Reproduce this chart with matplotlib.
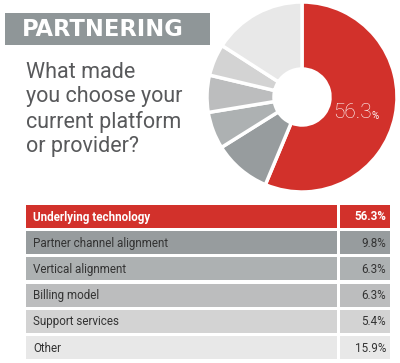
import matplotlib
matplotlib.use("Agg")
import matplotlib.pyplot as plt
import matplotlib.patches as patches

# survey answers, in order of the table
categories = ["Underlying technology", "Partner channel alignment", "Vertical alignment",
              "Billing model", "Support services", "Other"]
values = [56.3, 9.8, 6.3, 6.3, 5.4, 15.9]
colors = ["#d2312b", "#979c9e", "#adb1b2", "#bcbdbe", "#d3d3d3", "#e8e8e8"]
title = "PARTNERING"
question = "What made\nyou choose your\ncurrent platform\nor provider?"

W, H = 400, 363
fig = plt.figure(figsize=(W / 100, H / 100), dpi=100)
fig.patch.set_facecolor("white")

narrow = ["Roboto", "DejaVu Sans"]

# donut first, so the canvas with the labels sits on top
cx, cy, r = 302, 97, 95
pax = fig.add_axes([(cx - r) / W, (H - cy - r) / H, 2 * r / W, 2 * r / H])
pax.pie(values, colors=colors, startangle=90, counterclock=False, radius=1,
        wedgeprops=dict(width=1 - 28 / 95, edgecolor="white", linewidth=2.5))
pax.set_aspect("equal")
pax.set_xlim(-1, 1)
pax.set_ylim(-1, 1)
pax.axis("off")

# main canvas in pixel units (y down)
ax = fig.add_axes([0, 0, 1, 1])
ax.set_zorder(3)
ax.set_xlim(0, W)
ax.set_ylim(H, 0)
ax.axis("off")

# title bar
ax.add_patch(patches.Rectangle((5, 13), 205, 32, facecolor="#8f9698", edgecolor="none"))
ax.text(22, 30, title, color="white", fontsize=16.3, fontweight="bold",
        family="DejaVu Sans", va="center", ha="left")

# question
ax.text(26, 62, question, color="#58595b", fontsize=15.5, family=narrow,
        va="top", ha="left", linespacing=1.2)

# table rows
row_top, row_h, row_gap = 205, 23, 3.2
label_left, split, right = 26, 338, 390
ys = [row_top + i * (row_h + row_gap) + row_h / 2 for i in range(len(categories))]
ax.barh(ys, [split - label_left - 1.5] * len(ys), left=label_left, height=row_h,
        color=colors, edgecolor="none")
ax.barh(ys, [right - split - 1.5] * len(ys), left=split + 1.5, height=row_h,
        color=colors, edgecolor="none")
for i, (cat, v, y) in enumerate(zip(categories, values, ys)):
    first = i == 0
    tc = "white" if first else "#333333"
    fw = "bold" if first else "normal"
    ax.text(33, y + 0.5, cat, color=tc, fontsize=8.4, fontweight=fw, family=narrow,
            va="center", ha="left")
    ax.text(386, y + 0.5, f"{v}%", color=tc, fontsize=8.4, fontweight=fw, family=narrow,
            va="center", ha="right")

# big share label on the red slice
ax.text(333, 113, f"{values[0]}", color="white", fontsize=15, family=narrow,
        fontweight="light", va="center", ha="left")
ax.text(371, 116, "%", color="white", fontsize=7, family=narrow, va="center", ha="left")

fig.savefig("out.png", dpi=100, facecolor="white")
